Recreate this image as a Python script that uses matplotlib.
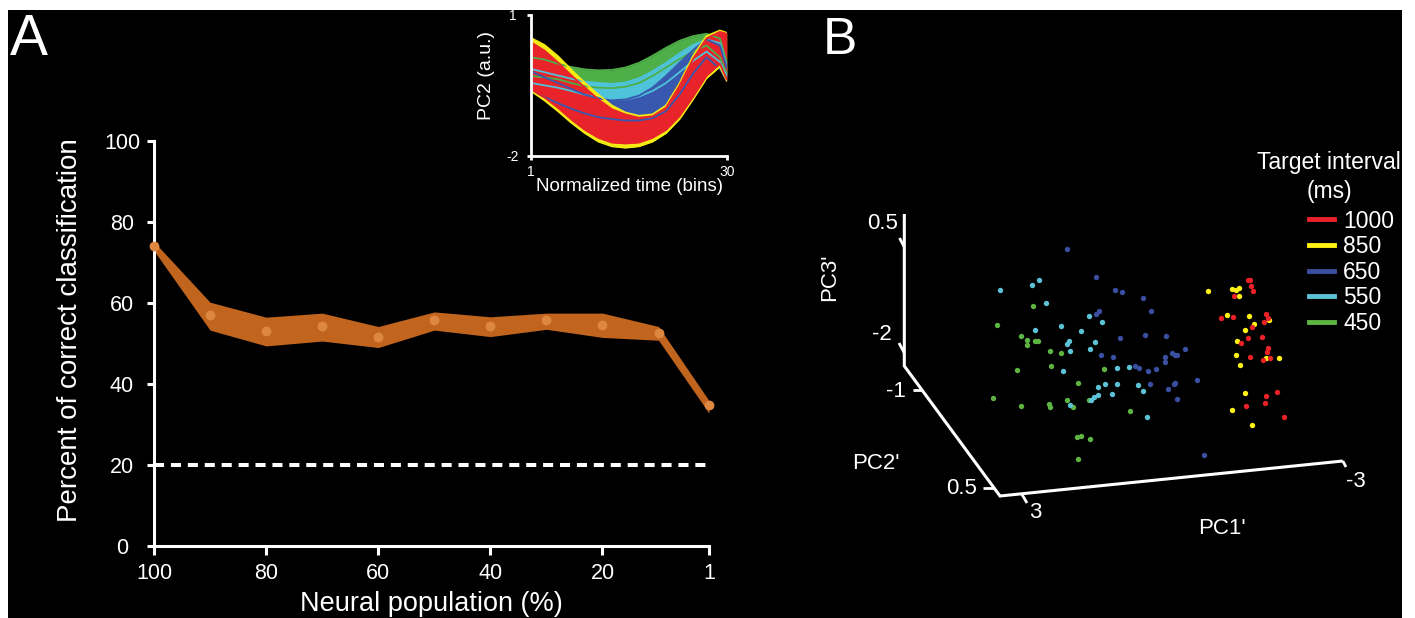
import matplotlib
matplotlib.use("Agg")
import matplotlib.pyplot as plt
from matplotlib.lines import Line2D
from matplotlib.patches import Rectangle

plt.rcParams["font.family"] = ["Liberation Sans", "DejaVu Sans"]
plt.rcParams["axes.unicode_minus"] = False

W, H = 1415, 618

# ---------------- Panel A: decoding accuracy vs. population size ----------------
population = [100, 90, 80, 70, 60, 50, 40, 30, 20, 10, 1]
accuracy_mean = [74.1, 57.0, 53.0, 54.2, 51.7, 55.7, 54.3, 55.7, 54.6, 52.6, 34.9]
accuracy_upper = [75.1, 60.2, 56.5, 57.5, 54.2, 57.8, 56.6, 57.5, 57.5, 54.2, 35.9]
accuracy_lower = [72.9, 53.3, 49.4, 50.6, 49.0, 53.3, 51.7, 53.5, 51.5, 50.8, 32.8]
chance_level = 20
population_ticks = [100, 80, 60, 40, 20, 1]
accuracy_ticks = [0, 20, 40, 60, 80, 100]

# ---------------- Inset: PC2 trajectories, envelope per target interval ----------------
time_bins = [1, 3, 5, 7, 9, 11, 13, 15, 17, 19, 21, 23, 25, 27, 29, 30]
pc2_hi_450 = [0.10, 0.05, -0.04, -0.11, -0.16, -0.18, -0.17, -0.12, -0.02, 0.13, 0.30, 0.45, 0.55, 0.60, 0.50, 0.00]
pc2_lo_450 = [-0.30, -0.33, -0.37, -0.45, -0.52, -0.55, -0.56, -0.53, -0.45, -0.30, -0.12, 0.06, 0.22, 0.35, 0.10, -0.25]
pc2_hi_550 = [-0.15, -0.22, -0.29, -0.36, -0.42, -0.45, -0.47, -0.44, -0.35, -0.20, -0.02, 0.18, 0.36, 0.48, 0.40, -0.08]
pc2_lo_550 = [-0.45, -0.50, -0.55, -0.62, -0.70, -0.76, -0.80, -0.80, -0.74, -0.62, -0.45, -0.22, 0.02, 0.22, 0.00, -0.30]
pc2_hi_650 = [-0.20, -0.33, -0.45, -0.58, -0.70, -0.78, -0.82, -0.80, -0.72, -0.55, -0.30, -0.02, 0.25, 0.48, 0.35, -0.12]
pc2_lo_650 = [-0.62, -0.75, -0.88, -1.00, -1.10, -1.18, -1.22, -1.25, -1.25, -1.20, -1.05, -0.70, -0.25, 0.10, -0.15, -0.40]
pc2_hi_850 = [0.51, 0.36, 0.12, -0.17, -0.45, -0.70, -0.93, -1.08, -1.15, -1.12, -0.93, -0.46, 0.12, 0.55, 0.67, 0.62]
pc2_lo_850 = [-0.62, -0.82, -1.05, -1.30, -1.52, -1.70, -1.80, -1.83, -1.80, -1.70, -1.52, -1.22, -0.80, -0.35, -0.10, -0.40]
pc2_hi_1000 = [0.42, 0.24, -0.01, -0.29, -0.55, -0.80, -1.01, -1.12, -1.19, -1.16, -0.98, -0.51, 0.06, 0.50, 0.64, 0.60]
pc2_lo_1000 = [-0.58, -0.76, -0.98, -1.23, -1.45, -1.62, -1.72, -1.74, -1.72, -1.62, -1.45, -1.16, -0.75, -0.30, -0.04, -0.37]

# ---------------- Panel B: projected PC scores per trial ----------------
intervals = ["1000", "850", "650", "550", "450"]
interval_colors = {"1000": "#EA2228", "850": "#FFF214", "650": "#3B4FA0",
                   "550": "#5BC3D5", "450": "#5DB443"}
proj_x_1000 = [2.48, 2.50, 2.51, 2.53, 2.34, 2.21, 2.33, 2.66, 2.68, 2.64, 2.52, 2.62,
               2.48, 2.41, 2.68, 2.67, 2.50, 2.63, 2.70, 2.77, 2.66, 2.65, 2.46, 2.84]
proj_y_1000 = [2.16, 2.16, 2.10, 2.05, 2.00, 1.78, 1.79, 1.82, 1.78, 1.74, 1.69, 1.59,
               1.58, 1.53, 1.48, 1.44, 1.39, 1.36, 1.38, 1.04, 1.00, 0.93, 0.90, 0.79]
proj_x_850 = [2.08, 2.32, 2.36, 2.39, 2.39, 2.27, 2.49, 2.54, 2.45, 2.37, 2.36, 2.40,
              2.66, 2.79, 2.69, 2.45, 2.32, 2.52]
proj_y_850 = [2.05, 2.07, 2.06, 2.08, 2.00, 1.81, 1.80, 1.72, 1.66, 1.55, 1.41, 1.31,
              1.38, 1.38, 1.76, 1.03, 0.86, 0.71]
proj_x_650 = [0.67, 0.96, 1.15, 1.22, 1.43, 1.51, 0.99, 0.96, 1.20, 1.45, 1.66, 1.85,
              1.72, 1.75, 1.77, 1.65, 1.65, 1.01, 1.13, 1.35, 1.39, 1.48, 1.56, 1.97,
              1.75, 1.74, 1.50, 1.68, 1.77, 2.04]
proj_y_650 = [2.47, 2.19, 2.06, 2.04, 1.98, 1.85, 1.85, 1.82, 1.58, 1.61, 1.60, 1.47,
              1.43, 1.41, 1.41, 1.39, 1.34, 1.41, 1.39, 1.30, 1.28, 1.25, 1.27, 1.16,
              1.13, 1.12, 1.12, 1.07, 0.97, 0.41]
proj_x_550 = [0.00, 0.32, 0.39, 0.46, 0.89, 1.02, 0.35, 0.61, 0.81, 0.95, 0.69, 0.67,
              0.70, 0.90, 0.63, 1.17, 1.29, 1.05, 1.17, 0.98, 1.38, 1.43, 1.12, 0.98,
              0.94, 0.91, 0.70, 1.47]
proj_y_550 = [2.06, 2.11, 2.16, 1.93, 1.80, 1.74, 1.66, 1.70, 1.65, 1.54, 1.55, 1.52,
              1.45, 1.47, 1.25, 1.28, 1.29, 1.12, 1.12, 1.09, 1.11, 1.05, 1.02, 1.01,
              0.99, 0.96, 0.91, 0.79]
proj_x_450 = [0.33, -0.03, 0.21, 0.27, 0.27, 0.35, 0.38, 0.50, 0.61, 0.17, 0.51, 1.04,
              0.78, -0.07, 0.21, 0.49, 0.50, 0.67, 0.73, 0.89, 1.30, 0.77, 0.81, 0.90, 0.78]
proj_y_450 = [1.90, 1.71, 1.60, 1.56, 1.51, 1.55, 1.55, 1.45, 1.43, 1.26, 1.30, 1.27,
              1.13, 0.98, 0.90, 0.92, 0.89, 0.96, 0.89, 0.96, 0.85, 0.59, 0.60, 0.57, 0.37]

# 3-D frame of panel B, in the same projected units
frame_x = [-0.957, -0.957, 0.0, 3.428]
frame_y = [2.82, 1.30, 0.0, 0.35]
frame_ticks = [((-0.957, 2.49), (-1.005, 2.58)),
               ((-0.957, 1.43), (-1.010, 1.53)),
               ((-0.780, 1.06), (-0.875, 1.06)),
               ((-0.060, 0.083), (-0.170, 0.083)),
               ((0.216, 0.022), (0.270, -0.07)),
               ((3.428, 0.35), (3.460, 0.29))]
frame_labels = [("0.5", -1.17, 2.73), ("-2", -1.18, 1.62), ("-1", -1.04, 1.045),
                ("0.5", -0.385, 0.08), ("3", 0.35, -0.16), ("-3", 3.555, 0.143)]

band_color = "#C0641E"
point_color = "#DE8741"

fig = plt.figure(figsize=(W / 100, H / 100), dpi=100, facecolor="white")
fig.patches.append(Rectangle((8 / W, 0), (1402 - 8) / W, (H - 10) / H,
                             transform=fig.transFigure, facecolor="black",
                             edgecolor="none", zorder=-10))

# ---------------- Panel A ----------------
ax = fig.add_axes([154 / W, (H - 546) / H, (709 - 154) / W, (546 - 141) / H])
ax.set_facecolor("none")
ax.fill_between(population, accuracy_lower, accuracy_upper, color=band_color,
                lw=0, zorder=2, clip_on=False)
ax.scatter(population, accuracy_mean, s=50, color=point_color, lw=0, zorder=3,
           clip_on=False)
ax.axhline(chance_level, color="white", lw=2.9, ls=(0, (2.5, 1.7)),
           dash_capstyle="butt", zorder=1)
ax.set_xlim(100, 1)
ax.set_ylim(0, 100)
for side in ("top", "right"):
    ax.spines[side].set_visible(False)
for side in ("left", "bottom"):
    ax.spines[side].set_color("white")
    ax.spines[side].set_linewidth(2.2)
ax.set_xticks(population_ticks)
ax.set_xticklabels([str(t) for t in population_ticks])
ax.set_yticks(accuracy_ticks)
ax.set_yticklabels([str(t) for t in accuracy_ticks])
ax.tick_params(axis="x", colors="white", width=2.2, length=6.5, labelsize=15.5, pad=6)
ax.tick_params(axis="y", colors="white", width=2.2, length=5, labelsize=15.5, pad=18)
for lbl in ax.get_yticklabels():
    lbl.set_horizontalalignment("center")

fig.text(70 / W, 1 - 330 / H, "Percent of correct classification", rotation=90,
         color="white", fontsize=20, ha="center", va="center")
fig.text(431 / W, 1 - 611 / H, "Neural population (%)", color="white",
         fontsize=19.5, ha="center", va="baseline")
fig.text(10 / W, 1 - 55 / H, "A", color="white", fontsize=41, ha="left", va="baseline")
fig.text(823 / W, 1 - 54 / H, "B", color="white", fontsize=37, ha="left", va="baseline")

# ---------------- Inset ----------------
axi = fig.add_axes([531 / W, (H - 155.7) / H, 195.7 / W, 140.7 / H])
axi.set_facecolor("none")
inset_layers = [("450", pc2_lo_450, pc2_hi_450), ("550", pc2_lo_550, pc2_hi_550),
                ("650", pc2_lo_650, pc2_hi_650), ("850", pc2_lo_850, pc2_hi_850),
                ("1000", pc2_lo_1000, pc2_hi_1000)]
inset_colors = {"1000": "#E8232A", "850": "#F5EB14", "650": "#3857AE",
                "550": "#4EC3DA", "450": "#4EAE48"}
for key, lo, hi in inset_layers:
    c = inset_colors[key]
    axi.fill_between(time_bins, lo, hi, color=c, lw=0)
    axi.plot(time_bins, hi, color=c, lw=1.3)
    axi.plot(time_bins, lo, color=c, lw=1.3)
axi.set_xlim(1, 30)
axi.set_ylim(-2, 1)
for side in ("top", "right"):
    axi.spines[side].set_visible(False)
for side in ("left", "bottom"):
    axi.spines[side].set_color("white")
    axi.spines[side].set_linewidth(2.0)
axi.set_xticks([1, 30])
axi.set_xticklabels(["1", "30"])
axi.set_yticks([-2, 1])
axi.set_yticklabels(["-2", "1"])
axi.tick_params(colors="white", width=2.0, length=3, labelsize=10)
axi.tick_params(axis="x", pad=4)
axi.tick_params(axis="y", pad=10)
for lbl in axi.get_yticklabels():
    lbl.set_horizontalalignment("center")
fig.text(630 / W, 1 - 186.7 / H, "Normalized time (bins)", color="white",
         fontsize=13.5, ha="center", va="center")
fig.text(486.7 / W, 1 - 75 / H, "PC2 (a.u.)", color="white", fontsize=14,
         rotation=90, ha="center", va="center")

# ---------------- Panel B ----------------
axb = fig.add_axes([800 / W, (H - 560) / H, 600 / W, 430 / H])
axb.set_facecolor("none")
axb.set_xlim(-2.0, 4.0)
axb.set_ylim(-0.64, 3.66)
axb.axis("off")
axb.plot(frame_x, frame_y, color="white", lw=2.2, solid_joinstyle="miter",
         solid_capstyle="butt")
for (x0, y0), (x1, y1) in frame_ticks:
    axb.plot([x0, x1], [y0, y1], color="white", lw=2.0, solid_capstyle="butt")
for txt, x, y in frame_labels:
    axb.text(x, y, txt, color="white", fontsize=16, ha="center", va="center")
axb.text(2.22, -0.32, "PC1'", color="white", fontsize=16, ha="center", va="center")
axb.text(-1.245, 0.327, "PC2'", color="white", fontsize=16, ha="center", va="center")
axb.text(-1.70, 2.19, "PC3'", color="white", fontsize=16, ha="center", va="center",
         rotation=90)

scatter_sets = [("450", proj_x_450, proj_y_450), ("550", proj_x_550, proj_y_550),
                ("650", proj_x_650, proj_y_650), ("850", proj_x_850, proj_y_850),
                ("1000", proj_x_1000, proj_y_1000)]
for key, xs, ys in scatter_sets:
    axb.scatter(xs, ys, s=15, color=interval_colors[key], lw=0, zorder=3)

handles = [Line2D([], [], color=interval_colors[k], lw=3.5) for k in intervals]
leg = axb.legend(handles, intervals, loc="upper left",
                 bbox_to_anchor=(1309 / W, 1 - 209.5 / H),
                 bbox_transform=fig.transFigure, frameon=False, fontsize=16.5,
                 handlelength=1.09, handletextpad=0.41, labelspacing=0.11,
                 borderpad=0, borderaxespad=0, labelcolor="white")
fig.text(1329 / W, 1 - 163 / H, "Target interval", color="white", fontsize=16.5,
         ha="center", va="center")
fig.text(1329 / W, 1 - 191.7 / H, "(ms)", color="white", fontsize=16.5,
         ha="center", va="center")

fig.savefig("out.png", dpi=100, facecolor="white")
